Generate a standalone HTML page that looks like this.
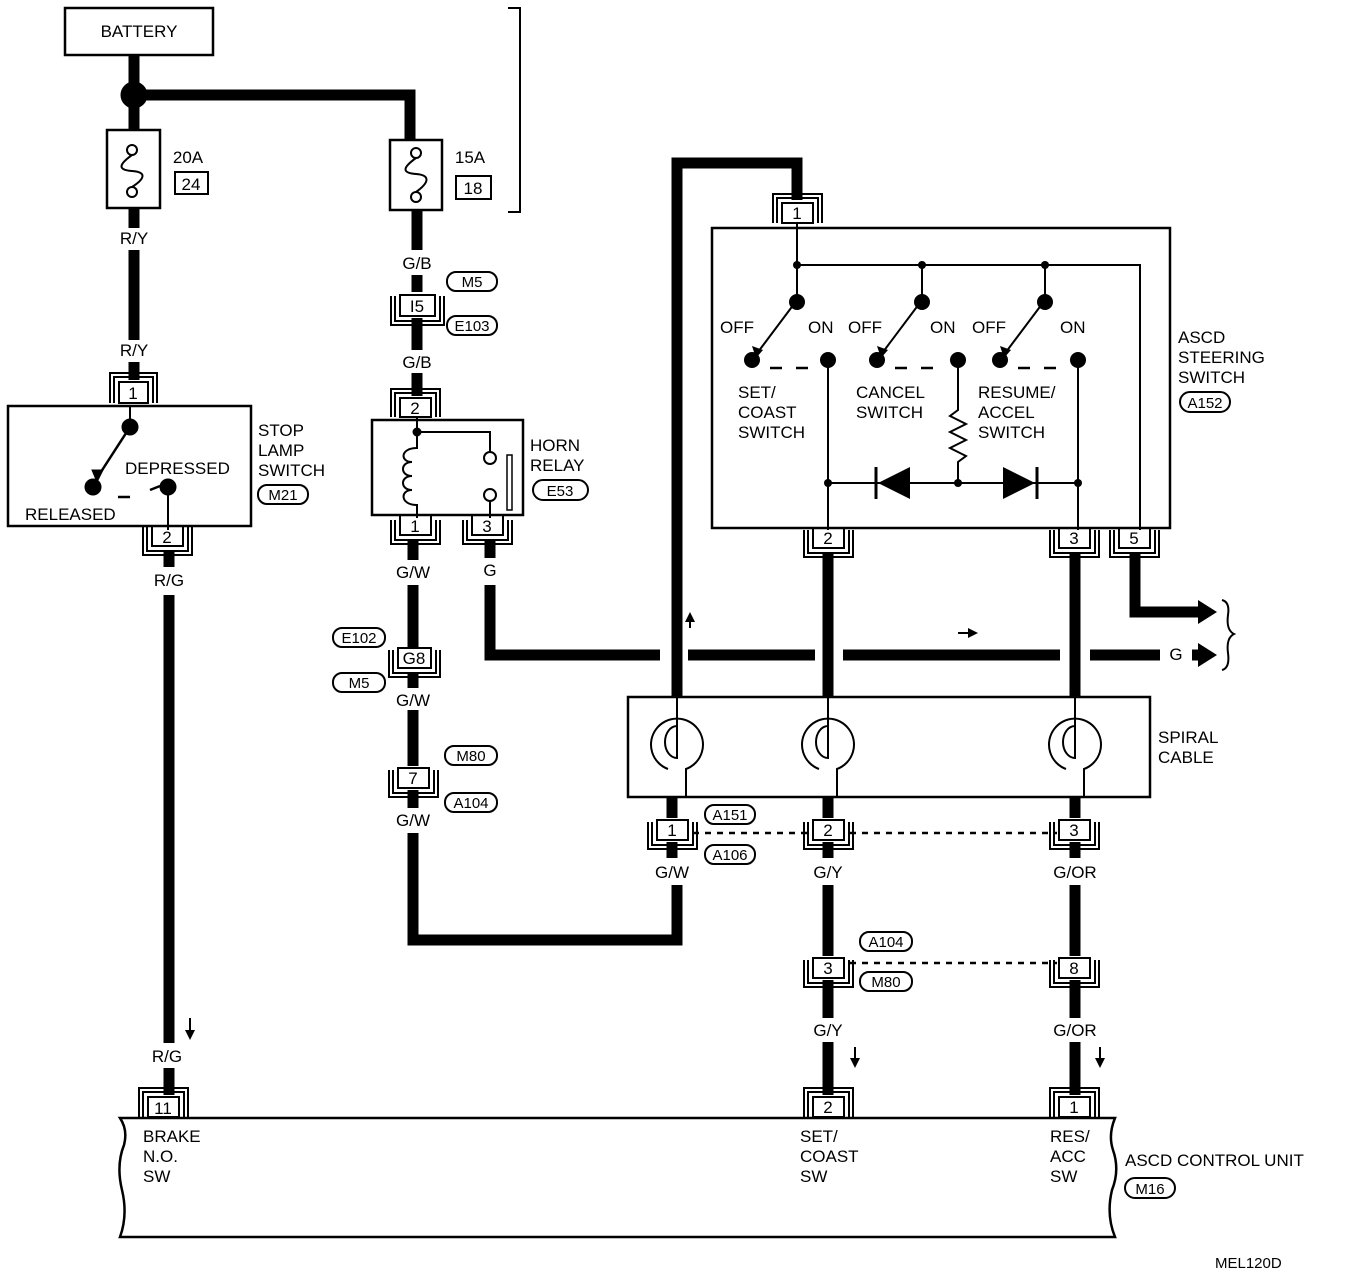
<!DOCTYPE html>
<html><head><meta charset="utf-8"><style>
html,body{margin:0;padding:0;background:#fff}
svg{display:block}
text{font-family:"Liberation Sans",Arial,sans-serif;font-size:17px;fill:#000}
.c{text-anchor:middle}
</style></head><body>
<svg width="1360" height="1272" viewBox="0 0 1360 1272" xmlns="http://www.w3.org/2000/svg">
<g fill="none" stroke="#000">
<rect x="65" y="8" width="148" height="47" stroke-width="2.5"/>
<g stroke-width="11">
<path d="M134 55 V130"/>
<path d="M134 95 H410 V140"/>
<path d="M134 208 V228"/><path d="M134 250 V340"/><path d="M134 362 V380"/>
<path d="M169 550 V567"/><path d="M169 595 V1043"/><path d="M169 1068 V1095"/>
<path d="M417 210 V250"/><path d="M417 275 V292"/><path d="M417 318 V350"/><path d="M417 373 V396"/>
<path d="M413 540 V560"/><path d="M413 585 V648"/><path d="M413 672 V688"/><path d="M413 710 V766"/><path d="M413 790 V808"/>
<path d="M413 833 V940 H677 V885"/>
<path d="M490 540 V558"/><path d="M490 585 V655 H660"/>
<path d="M688 655 H815"/><path d="M843 655 H1060"/><path d="M1090 655 H1160"/>
<path d="M1192 655 H1200"/>
<path d="M677 697 V163 H797 V200"/>
<path d="M828 552 V697"/><path d="M1075 552 V697"/>
<path d="M1135 552 V612 H1200"/>
<path d="M672 797 V818"/><path d="M828 797 V818"/><path d="M1075 797 V818"/>
<path d="M672 842 V858"/><path d="M828 842 V858"/><path d="M1075 842 V858"/>
<path d="M828 885 V956"/><path d="M828 980 V1018"/><path d="M828 1042 V1095"/>
<path d="M1075 885 V956"/><path d="M1075 980 V1018"/><path d="M1075 1042 V1095"/>
</g>
<circle cx="134" cy="95" r="13" fill="#000"/>
<path d="M1198 600 L1217 612 L1198 624 Z M1198 643 L1217 655 L1198 667 Z" fill="#000" stroke="none"/>
<path d="M1222 600 Q1230 602 1228 615 Q1226 630 1234 634 Q1226 638 1228 653 Q1230 668 1222 670" stroke-width="2"/>
<rect x="107" y="130" width="53" height="78" stroke-width="2.5"/>
<circle cx="132" cy="150" r="5" stroke-width="2"/><circle cx="132" cy="192" r="5" stroke-width="2"/>
<path d="M132 155 C118 165 118 170 132 171 C146 172 146 178 132 187" stroke-width="2"/>
<rect x="390" y="140" width="52" height="70" stroke-width="2.5"/>
<circle cx="416" cy="153" r="5" stroke-width="2"/><circle cx="416" cy="197" r="5" stroke-width="2"/>
<path d="M416 158 C402 168 402 173 416 174 C430 175 430 182 416 192" stroke-width="2"/>
<rect x="175" y="172" width="33" height="22" stroke-width="2"/>
<rect x="456" y="176" width="35" height="23" stroke-width="2"/>
<path d="M508 8 H520 V212 H508" stroke-width="2"/>
<rect x="8" y="406" width="243" height="120" stroke-width="2.5"/>
<path d="M130 406 V425" stroke-width="2"/>
<circle cx="130" cy="427" r="8" fill="#000"/>
<path d="M130 427 L97 478" stroke-width="2.5"/>
<path d="M92 470 L97 482 L103 470 Z" fill="#000"/>
<circle cx="93" cy="487" r="8" fill="#000"/>
<path d="M118 497 H130 M150 490 L160 486" stroke-width="2.5"/>
<circle cx="168" cy="487" r="8" fill="#000"/>
<path d="M168 487 V530" stroke-width="2"/>
<rect x="372" y="420" width="151" height="95" stroke-width="2.5"/>
<path d="M417 417 V432 H490 V452 M417 432 V448 C400 448 400 462 412 462 C400 462 400 476 412 476 C400 476 400 490 412 490 C400 490 400 505 417 505 V518 M490 501 V518" stroke-width="2"/>
<circle cx="417" cy="432" r="4" fill="#000"/>
<circle cx="490" cy="458" r="6" stroke-width="2"/><circle cx="490" cy="495" r="6" stroke-width="2"/>
<rect x="507" y="455" width="5" height="55" stroke-width="1.5"/>
<rect x="712" y="228" width="458" height="300" stroke-width="2.5"/>
<g stroke-width="2">
<path d="M797 223 V265 H1140 V530"/>
<path d="M797 265 V300 M922 265 V300 M1045 265 V300"/>
<path d="M828 358 V530 M1078 358 V530"/>
<path d="M958 358 V410 L950 416 L966 424 L950 432 L966 440 L950 448 L966 456 L958 462 V483"/>
<path d="M828 483 H1078"/>
<path d="M797 300 L758 352 M922 300 L883 352 M1045 300 L1006 352"/>
</g>
<g fill="#000" stroke="none">
<circle cx="797" cy="265" r="4"/><circle cx="922" cy="265" r="4"/><circle cx="1045" cy="265" r="4"/>
<circle cx="797" cy="302" r="8"/><circle cx="922" cy="302" r="8"/><circle cx="1045" cy="302" r="8"/>
<circle cx="752" cy="360" r="8"/><circle cx="877" cy="360" r="8"/><circle cx="1000" cy="360" r="8"/>
<circle cx="828" cy="360" r="8"/><circle cx="958" cy="360" r="8"/><circle cx="1078" cy="360" r="8"/>
<circle cx="828" cy="483" r="4"/><circle cx="958" cy="483" r="4"/><circle cx="1078" cy="483" r="4"/>
<path d="M878 483 L910 467 L910 499 Z"/><path d="M1035 483 L1003 467 L1003 499 Z"/>
<path d="M752 346 L763 350 L756 358 Z M877 346 L888 350 L881 358 Z M1000 346 L1011 350 L1004 358 Z"/>
</g>
<path d="M876 467 V499 M1037 467 V499" stroke-width="3"/>
<path d="M770 368 H782 M796 368 H808 M895 368 H907 M921 368 H933 M1018 368 H1030 M1044 368 H1056" stroke-width="2.5"/>
<rect x="628" y="697" width="522" height="100" stroke-width="2.5"/>
<g stroke-width="2">
<path d="M677 697 V758 A12 16 0 0 1 677 726"/>
<path d="M668 769 A26 26 0 1 1 686 769 V797"/>
<path d="M828 697 V758 A12 16 0 0 1 828 726"/>
<path d="M819 769 A26 26 0 1 1 837 769 V797"/>
<path d="M1075 697 V758 A12 16 0 0 1 1075 726"/>
<path d="M1066 769 A26 26 0 1 1 1084 769 V797"/>
</g>
<path d="M693 833 H812 M850 833 H1057" stroke-width="2.5" stroke-dasharray="6 6"/>
<path d="M850 963 H1057" stroke-width="2.5" stroke-dasharray="6 6"/>
<path d="M190 1018 V1032 M855 1047 V1060 M1100 1047 V1060 M690 628 V620 M958 633 H970" stroke-width="2"/>
<g fill="#000" stroke="none">
<path d="M185 1030 L190 1040 L195 1030 Z M850 1058 L855 1068 L860 1058 Z M1095 1058 L1100 1068 L1105 1058 Z M685 622 L690 612 L695 622 Z M968 628 L978 633 L968 638 Z"/>
</g>
<path d="M120 1118 H1115 Q1108 1135 1113 1150 Q1120 1170 1112 1190 Q1106 1215 1115 1237 H120 Q128 1215 122 1190 Q116 1165 124 1145 Q128 1130 120 1118 Z" stroke-width="2.5"/>
<g stroke-width="2">
<rect x="119" y="382" width="29" height="21"/>
<path d="M114 403 V377 H153 V403 M110 403 V373 H157 V403"/>
<rect x="400" y="398" width="31" height="19"/>
<path d="M395 417 V393 H436 V417 M391 417 V389 H440 V417"/>
<rect x="782" y="203" width="31" height="20"/>
<path d="M777 223 V198 H818 V223 M773 223 V194 H822 V223"/>
<rect x="148" y="1097" width="31" height="20"/>
<path d="M143 1118 V1092 H184 V1118 M139 1118 V1088 H188 V1118"/>
<rect x="813" y="1097" width="31" height="20"/>
<path d="M808 1118 V1092 H849 V1118 M804 1118 V1088 H853 V1118"/>
<rect x="1059" y="1097" width="31" height="20"/>
<path d="M1054 1118 V1092 H1095 V1118 M1050 1118 V1088 H1099 V1118"/>
<rect x="152" y="526" width="31" height="20"/>
<path d="M147 526 V551 H188 V526 M143 526 V555 H192 V526"/>
<rect x="400" y="515" width="31" height="20"/>
<path d="M395 520 V540 H436 V520 M391 520 V544 H440 V520"/>
<rect x="472" y="515" width="31" height="20"/>
<path d="M467 520 V540 H508 V520 M463 520 V544 H512 V520"/>
<rect x="813" y="528" width="31" height="20"/>
<path d="M808 530 V553 H849 V530 M804 530 V557 H853 V530"/>
<rect x="1059" y="528" width="31" height="20"/>
<path d="M1054 530 V553 H1095 V530 M1050 530 V557 H1099 V530"/>
<rect x="1119" y="528" width="31" height="20"/>
<path d="M1114 530 V553 H1155 V530 M1110 530 V557 H1159 V530"/>
<rect x="400" y="295" width="35" height="21"/>
<path d="M395 296 V321 H440 V296 M391 296 V325 H444 V296"/>
<rect x="398" y="648" width="33" height="20"/>
<path d="M393 650 V673 H436 V650 M389 650 V677 H440 V650"/>
<rect x="398" y="768" width="31" height="20"/>
<path d="M393 770 V793 H434 V770 M389 770 V797 H438 V770"/>
<rect x="657" y="820" width="31" height="20"/>
<path d="M652 822 V845 H693 V822 M648 822 V849 H697 V822"/>
<rect x="813" y="820" width="31" height="20"/>
<path d="M808 822 V845 H849 V822 M804 822 V849 H853 V822"/>
<rect x="1059" y="820" width="31" height="20"/>
<path d="M1054 822 V845 H1095 V822 M1050 822 V849 H1099 V822"/>
<rect x="813" y="958" width="31" height="20"/>
<path d="M808 960 V983 H849 V960 M804 960 V987 H853 V960"/>
<rect x="1059" y="958" width="31" height="20"/>
<path d="M1054 960 V983 H1095 V960 M1050 960 V987 H1099 V960"/>
<rect x="258" y="485" width="50" height="19" rx="9"/>
<rect x="447" y="272" width="50" height="19" rx="9"/>
<rect x="447" y="316" width="50" height="19" rx="9"/>
<rect x="533" y="480" width="55" height="20" rx="10"/>
<rect x="333" y="628" width="52" height="19" rx="9"/>
<rect x="333" y="673" width="52" height="19" rx="9"/>
<rect x="445" y="746" width="52" height="19" rx="9"/>
<rect x="445" y="793" width="52" height="19" rx="9"/>
<rect x="705" y="805" width="50" height="19" rx="9"/>
<rect x="705" y="845" width="50" height="19" rx="9"/>
<rect x="860" y="932" width="52" height="19" rx="9"/>
<rect x="860" y="972" width="52" height="19" rx="9"/>
<rect x="1180" y="392" width="50" height="20" rx="10"/>
<rect x="1125" y="1178" width="50" height="20" rx="10"/>
</g>
</g>
<text x="139" y="37" class="c">BATTERY</text>
<text x="188" y="163" class="c">20A</text><text x="191" y="190" class="c">24</text>
<text x="470" y="163" class="c">15A</text><text x="473" y="194" class="c">18</text>
<text x="134" y="244" class="c">R/Y</text><text x="134" y="356" class="c">R/Y</text>
<text x="133" y="399" class="c">1</text>
<text x="125" y="474">DEPRESSED</text><text x="25" y="520">RELEASED</text>
<text x="258" y="436">STOP</text><text x="258" y="456">LAMP</text><text x="258" y="476">SWITCH</text>
<text x="283" y="500" class="c" style="font-size:15px">M21</text>
<text x="167" y="543" class="c">2</text><text x="169" y="586" class="c">R/G</text>
<text x="167" y="1062" class="c">R/G</text><text x="163" y="1114" class="c">11</text>
<text x="417" y="269" class="c">G/B</text><text x="417" y="312" class="c">I5</text>
<text x="472" y="287" class="c" style="font-size:15px">M5</text><text x="472" y="331" class="c" style="font-size:15px">E103</text>
<text x="417" y="368" class="c">G/B</text><text x="415" y="414" class="c">2</text>
<text x="530" y="451">HORN</text><text x="530" y="471">RELAY</text>
<text x="560" y="496" class="c" style="font-size:15px">E53</text>
<text x="415" y="532" class="c">1</text><text x="487" y="532" class="c">3</text>
<text x="413" y="578" class="c">G/W</text><text x="490" y="576" class="c">G</text>
<text x="359" y="643" class="c" style="font-size:15px">E102</text><text x="359" y="688" class="c" style="font-size:15px">M5</text>
<text x="414" y="664" class="c">G8</text><text x="413" y="706" class="c">G/W</text>
<text x="471" y="761" class="c" style="font-size:15px">M80</text><text x="471" y="808" class="c" style="font-size:15px">A104</text>
<text x="413" y="784" class="c">7</text><text x="413" y="826" class="c">G/W</text>
<text x="797" y="219" class="c">1</text>
<text x="720" y="333">OFF</text><text x="808" y="333">ON</text>
<text x="848" y="333">OFF</text><text x="930" y="333">ON</text>
<text x="972" y="333">OFF</text><text x="1060" y="333">ON</text>
<text x="738" y="398">SET/</text><text x="738" y="418">COAST</text><text x="738" y="438">SWITCH</text>
<text x="856" y="398">CANCEL</text><text x="856" y="418">SWITCH</text>
<text x="978" y="398">RESUME/</text><text x="978" y="418">ACCEL</text><text x="978" y="438">SWITCH</text>
<text x="1178" y="343">ASCD</text><text x="1178" y="363">STEERING</text><text x="1178" y="383">SWITCH</text>
<text x="1205" y="408" class="c" style="font-size:15px">A152</text>
<text x="828" y="544" class="c">2</text><text x="1074" y="544" class="c">3</text><text x="1134" y="544" class="c">5</text>
<text x="1176" y="660" class="c">G</text>
<text x="1158" y="743">SPIRAL</text><text x="1158" y="763">CABLE</text>
<text x="672" y="836" class="c">1</text><text x="828" y="836" class="c">2</text><text x="1074" y="836" class="c">3</text>
<text x="730" y="820" class="c" style="font-size:15px">A151</text><text x="730" y="860" class="c" style="font-size:15px">A106</text>
<text x="672" y="878" class="c">G/W</text><text x="828" y="878" class="c">G/Y</text><text x="1075" y="878" class="c">G/OR</text>
<text x="886" y="947" class="c" style="font-size:15px">A104</text><text x="886" y="987" class="c" style="font-size:15px">M80</text>
<text x="828" y="974" class="c">3</text><text x="1074" y="974" class="c">8</text>
<text x="828" y="1036" class="c">G/Y</text><text x="1075" y="1036" class="c">G/OR</text>
<text x="828" y="1113" class="c">2</text><text x="1074" y="1113" class="c">1</text>
<text x="143" y="1142">BRAKE</text><text x="143" y="1162">N.O.</text><text x="143" y="1182">SW</text>
<text x="800" y="1142">SET/</text><text x="800" y="1162">COAST</text><text x="800" y="1182">SW</text>
<text x="1050" y="1142">RES/</text><text x="1050" y="1162">ACC</text><text x="1050" y="1182">SW</text>
<text x="1125" y="1166">ASCD CONTROL UNIT</text>
<text x="1150" y="1194" class="c" style="font-size:15px">M16</text>
<text x="1215" y="1268" style="font-size:15px">MEL120D</text>
</svg>
</body></html>
